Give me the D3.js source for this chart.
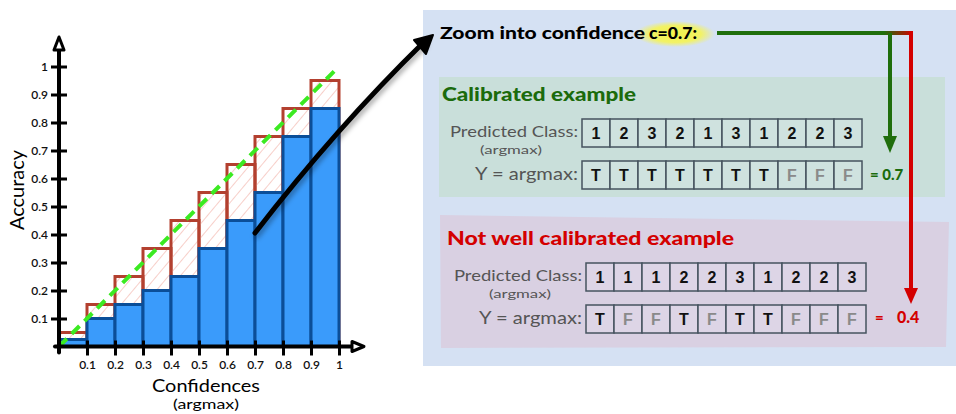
<!DOCTYPE html>
<html>
<head>
<meta charset="utf-8">
<script src="https://cdn.jsdelivr.net/npm/d3@7"></script>
<style>
  body { margin: 0; background: #fff; }
  svg { display: block; }
</style>
</head>
<body>
<div id="chart"></div>
<script>
// reliability diagram data (bins of width 0.1)
const binLower = [0, 0.1, 0.2, 0.3, 0.4, 0.5, 0.6, 0.7, 0.8, 0.9];
const expected = [0.05, 0.15, 0.25, 0.35, 0.45, 0.55, 0.65, 0.75, 0.85, 0.95];
const accuracy = [0.025, 0.1, 0.15, 0.2, 0.25, 0.35, 0.45, 0.55, 0.75, 0.85];
const xTicks = [0.1, 0.2, 0.3, 0.4, 0.5, 0.6, 0.7, 0.8, 0.9, 1];
const yTicks = [0.1, 0.2, 0.3, 0.4, 0.5, 0.6, 0.7, 0.8, 0.9, 1];

// zoom-in example rows
const calPred = [1, 2, 3, 2, 1, 3, 1, 2, 2, 3];
const calY = ["T", "T", "T", "T", "T", "T", "T", "F", "F", "F"];
const notPred = [1, 1, 1, 2, 2, 3, 1, 2, 2, 3];
const notY = ["T", "F", "F", "T", "F", "T", "T", "F", "F", "F"];

const W = 956, H = 414;
const hand = "Lato, 'Open Sans', sans-serif";

const svg = d3.select("#chart").append("svg")
  .attr("width", W).attr("height", H);

const defs = svg.append("defs");
const hatch = defs.append("pattern")
  .attr("id", "hatch").attr("patternUnits", "userSpaceOnUse")
  .attr("width", 9).attr("height", 9)
  .attr("patternTransform", "rotate(40)");
hatch.append("line").attr("x1", 0).attr("y1", 0).attr("x2", 0).attr("y2", 9)
  .attr("stroke", "#f3b5ab").attr("stroke-width", 1.3);

const shadow = defs.append("filter").attr("id", "shadow")
  .attr("x", "-20%").attr("y", "-20%").attr("width", "140%").attr("height", "140%");
shadow.append("feDropShadow").attr("dx", 2).attr("dy", 3).attr("stdDeviation", 2.5)
  .attr("flood-color", "#000").attr("flood-opacity", 0.35);

const glow = defs.append("radialGradient").attr("id", "glow");
glow.append("stop").attr("offset", "0%").attr("stop-color", "#f2f24a");
glow.append("stop").attr("offset", "65%").attr("stop-color", "#f2f266");
glow.append("stop").attr("offset", "100%").attr("stop-color", "#f2f266").attr("stop-opacity", 0);

const gr = defs.append("linearGradient").attr("id", "gr")
  .attr("x1", "0%").attr("x2", "100%");
gr.append("stop").attr("offset", "0%").attr("stop-color", "#1f6e0c");
gr.append("stop").attr("offset", "100%").attr("stop-color", "#d40000");

// ---------------- left chart ----------------
const x = d3.scaleLinear().domain([0, 1]).range([59, 339]);
const y = d3.scaleLinear().domain([0, 1]).range([346.5, 66.5]);

// gap (expected) outlines with hatch
svg.append("g").selectAll("rect")
  .data(binLower)
  .join("rect")
    .attr("x", d => x(d))
    .attr("y", (d, i) => y(expected[i]))
    .attr("width", d => x(d + 0.1) - x(d))
    .attr("height", (d, i) => y(0) - y(expected[i]))
    .attr("fill", "url(#hatch)")
    .attr("stroke", "#b3402f")
    .attr("stroke-width", 3);

// accuracy bars
svg.append("g").selectAll("rect")
  .data(binLower)
  .join("rect")
    .attr("x", d => x(d))
    .attr("y", (d, i) => y(accuracy[i]))
    .attr("width", d => x(d + 0.1) - x(d))
    .attr("height", (d, i) => y(0) - y(accuracy[i]))
    .attr("fill", "#3a9bfb")
    .attr("stroke", "#0b4e98")
    .attr("stroke-width", 3);

// perfect calibration line
svg.append("line")
  .attr("x1", x(0)).attr("y1", y(0))
  .attr("x2", x(1)).attr("y2", y(1))
  .attr("stroke", "#3bea22").attr("stroke-width", 4)
  .attr("stroke-dasharray", "11,7");

// axes
const yAxis = svg.append("g")
  .attr("transform", `translate(${x(0)},0)`)
  .call(d3.axisLeft(y).tickValues(yTicks).tickFormat(d3.format("")).tickSize(8));
const xAxis = svg.append("g")
  .attr("transform", `translate(0,${y(0)})`)
  .call(d3.axisBottom(x).tickValues(xTicks).tickFormat(d3.format("")).tickSize(9));

yAxis.select(".domain").remove();
xAxis.select(".domain").remove();
yAxis.selectAll(".tick line").attr("x1", 8).attr("x2", -8)
  .attr("stroke", "#000").attr("stroke-width", 3);
xAxis.selectAll(".tick line").attr("y1", -6).attr("y2", 9)
  .attr("stroke", "#000").attr("stroke-width", 3);
yAxis.selectAll(".tick text").attr("x", -11)
  .style("font-family", hand).style("font-size", "12px").style("font-weight", 600)
  .attr("fill", "#111");
xAxis.selectAll(".tick text").attr("y", 14)
  .style("font-family", hand).style("font-size", "12px").style("font-weight", 600)
  .attr("fill", "#111");

// axis lines with arrowheads
svg.append("line").attr("x1", x(0)).attr("y1", y(0) + 6).attr("x2", x(0)).attr("y2", 40)
  .attr("stroke", "#000").attr("stroke-width", 4).attr("stroke-linecap", "round");
svg.append("line").attr("x1", x(0) - 4).attr("y1", y(0)).attr("x2", 358).attr("y2", y(0))
  .attr("stroke", "#000").attr("stroke-width", 4).attr("stroke-linecap", "round");
svg.append("path")
  .attr("d", `M${x(0) - 5},50 L${x(0)},37 L${x(0) + 5},50 Z`)
  .attr("fill", "#fff").attr("stroke", "#000").attr("stroke-width", 3)
  .attr("stroke-linejoin", "round");
svg.append("path")
  .attr("d", `M352,${y(0) - 5} L364,${y(0)} L352,${y(0) + 5} Z`)
  .attr("fill", "#fff").attr("stroke", "#000").attr("stroke-width", 3)
  .attr("stroke-linejoin", "round");

svg.append("text")
  .attr("transform", "translate(24,190) rotate(-90)")
  .attr("text-anchor", "middle")
  .attr("textLength", 80).attr("lengthAdjust", "spacingAndGlyphs")
  .style("font-family", hand).style("font-size", "19px")
  .text("Accuracy");
svg.append("text")
  .attr("x", 206).attr("y", 392).attr("text-anchor", "middle")
  .attr("textLength", 108).attr("lengthAdjust", "spacingAndGlyphs")
  .style("font-family", hand).style("font-size", "18px")
  .text("Confidences");
svg.append("text")
  .attr("x", 206).attr("y", 409).attr("text-anchor", "middle")
  .attr("textLength", 66).attr("lengthAdjust", "spacingAndGlyphs")
  .style("font-family", hand).style("font-size", "14px")
  .text("(argmax)");

// ---------------- right panel ----------------
svg.append("rect").attr("x", 423).attr("y", 10).attr("width", 533).attr("height", 356)
  .attr("fill", "#d5e1f3");
svg.append("rect").attr("x", 439).attr("y", 77).attr("width", 506).attr("height", 120)
  .attr("fill", "#c9dfda");
svg.append("path").attr("d", "M440,215 L949,222 L946,347 L441,348 Z")
  .attr("fill", "#d9d0e2");

// zoom arrow
svg.append("path")
  .attr("d", "M255,233 Q336,128 424,42")
  .attr("fill", "none").attr("stroke", "#000").attr("stroke-width", 5)
  .attr("stroke-linecap", "round").attr("filter", "url(#shadow)");
svg.append("path")
  .attr("d", "M433,35 L414,40 L426,54 Z")
  .attr("fill", "#000").attr("stroke", "#000").attr("stroke-width", 2)
  .attr("stroke-linejoin", "round");

// title
svg.append("ellipse").attr("cx", 675).attr("cy", 34).attr("rx", 40).attr("ry", 13)
  .attr("fill", "url(#glow)");
svg.append("text").attr("x", 440).attr("y", 39)
  .attr("textLength", 205).attr("lengthAdjust", "spacingAndGlyphs")
  .style("font-family", hand).style("font-size", "17px").style("font-weight", 900)
  .text("Zoom into confidence");
svg.append("text").attr("x", 649).attr("y", 39)
  .attr("textLength", 48).attr("lengthAdjust", "spacingAndGlyphs")
  .style("font-family", hand).style("font-size", "17px").style("font-weight", 900)
  .text("c=0.7:");

// connector arrows
svg.append("line").attr("x1", 717).attr("y1", 33).attr("x2", 884).attr("y2", 33)
  .attr("stroke", "#1f6e0c").attr("stroke-width", 4);
svg.append("rect").attr("x", 884).attr("y", 31).attr("width", 29).attr("height", 4)
  .attr("fill", "url(#gr)");
svg.append("line").attr("x1", 911).attr("y1", 31).attr("x2", 911).attr("y2", 290)
  .attr("stroke", "#d40000").attr("stroke-width", 4);
svg.append("path").attr("d", "M904,288 L918,288 L911,304 Z").attr("fill", "#d40000");
svg.append("line").attr("x1", 890).attr("y1", 33).attr("x2", 890).attr("y2", 140)
  .attr("stroke", "#1f6e0c").attr("stroke-width", 4);
svg.append("path").attr("d", "M883,136 L897,136 L890,153 Z").attr("fill", "#1f6e0c");

// section titles
svg.append("text").attr("x", 442).attr("y", 101)
  .attr("textLength", 194).attr("lengthAdjust", "spacingAndGlyphs")
  .style("font-family", hand).style("font-size", "18px").style("font-weight", 900)
  .attr("fill", "#1b6b0c").text("Calibrated example");
svg.append("text").attr("x", 447).attr("y", 245)
  .attr("textLength", 287).attr("lengthAdjust", "spacingAndGlyphs")
  .style("font-family", hand).style("font-size", "18px").style("font-weight", 900)
  .attr("fill", "#d40000").text("Not well calibrated example");

function drawRows(pred, yv, cx0, rowTop1, rowTop2, cellFill, labelRight, argX) {
  const band = d3.scaleBand().domain(d3.range(pred.length)).range([cx0, cx0 + 280]);
  const g = svg.append("g");
  [[pred, rowTop1], [yv, rowTop2]].forEach(([vals, top]) => {
    const cells = g.append("g").selectAll("g")
      .data(vals)
      .join("g")
        .attr("transform", (d, i) => `translate(${band(i)},${top})`);
    cells.append("rect")
      .attr("width", band.bandwidth()).attr("height", 28)
      .attr("fill", cellFill).attr("stroke", "#46535f").attr("stroke-width", 1.5);
    cells.append("text")
      .attr("x", band.bandwidth() / 2).attr("y", 20)
      .attr("text-anchor", "middle")
      .style("font-family", "'Liberation Sans', Arial, sans-serif")
      .style("font-size", "16px").style("font-weight", "bold")
      .attr("fill", d => d === "F" ? "#8a8a8a" : "#111")
      .text(d => d);
  });
  g.append("text").attr("x", labelRight).attr("y", rowTop1 + 18).attr("text-anchor", "end")
    .attr("textLength", 128).attr("lengthAdjust", "spacingAndGlyphs")
    .style("font-family", hand).style("font-size", "16px").attr("fill", "#555")
    .text("Predicted Class:");
  g.append("text").attr("x", argX).attr("y", rowTop1 + 35).attr("text-anchor", "middle")
    .attr("textLength", 62).attr("lengthAdjust", "spacingAndGlyphs")
    .style("font-family", hand).style("font-size", "11px").attr("fill", "#555")
    .text("(argmax)");
  g.append("text").attr("x", labelRight).attr("y", rowTop2 + 19).attr("text-anchor", "end")
    .attr("textLength", 103).attr("lengthAdjust", "spacingAndGlyphs")
    .style("font-family", hand).style("font-size", "17px").attr("fill", "#555")
    .text("Y = argmax:");
}

drawRows(calPred, calY, 582, 119, 161, "#cfe2df", 578, 511);
drawRows(notPred, notY, 586, 263, 305, "#ddd5e6", 582, 520);

svg.append("text").attr("x", 870).attr("y", 180)
  .style("font-family", hand).style("font-size", "15px").style("font-weight", 900)
  .attr("fill", "#1b6b0c").text("= 0.7");
svg.append("text").attr("x", 875).attr("y", 323)
  .style("font-family", hand).style("font-size", "15px").style("font-weight", 900)
  .attr("fill", "#d40000").text("=");
svg.append("text").attr("x", 897).attr("y", 323)
  .style("font-family", hand).style("font-size", "16px").style("font-weight", 900)
  .attr("fill", "#d40000").text("0.4");
</script>
</body>
</html>
